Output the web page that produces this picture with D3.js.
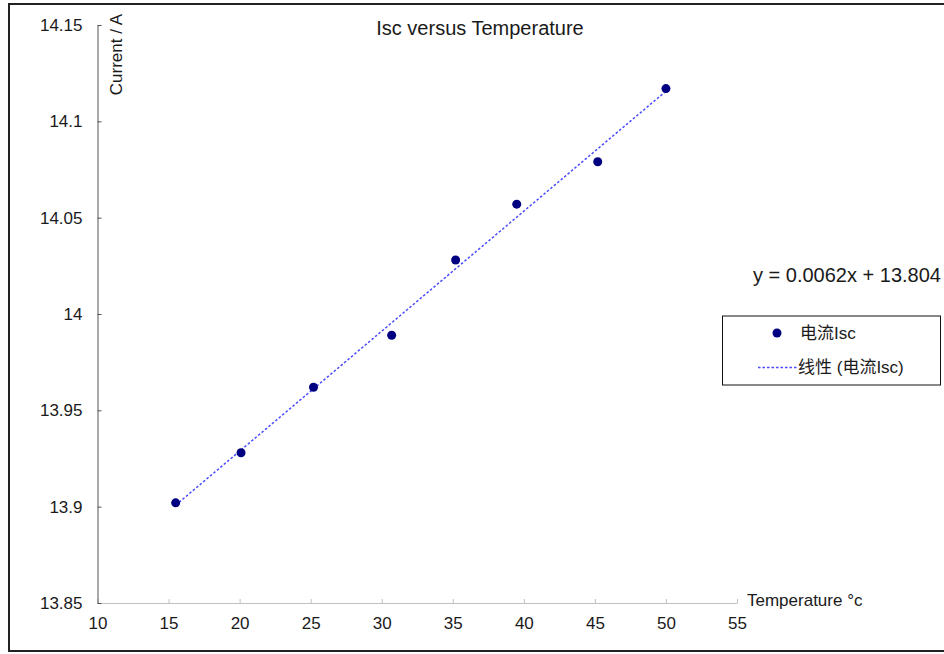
<!DOCTYPE html>
<head>
    <script src="https://d3js.org/d3.v7.min.js"></script>
</head>
<body style="margin:0">
    <style>
        text { font-family: "Liberation Sans", Arial, "Noto Sans CJK SC", sans-serif; fill: #1a1a1a; }
        .cjk { font-family: "Liberation Sans", Arial, "Noto Sans CJK SC", sans-serif; }
    </style>
    <svg width="944" height="654"></svg>
    <script>
        // values
        var temps = [15.5, 20.1, 25.2, 30.7, 35.2, 39.5, 45.2, 50.0];
        var isc = [13.902, 13.928, 13.962, 13.989, 14.028, 14.057, 14.079, 14.117];
        var xTicks = [10, 15, 20, 25, 30, 35, 40, 45, 50, 55];
        var yTicks = [13.85, 13.9, 13.95, 14, 14.05, 14.1, 14.15];

        var svg = d3.select("svg");

        var x = d3.scaleLinear().domain([10, 55]).range([97.5, 737]);
        var y = d3.scaleLinear().domain([13.85, 14.15]).range([603, 25]);

        // outer frame
        svg.append("rect")
            .attr("x", 9).attr("y", 4)
            .attr("width", 960).attr("height", 647)
            .attr("fill", "none")
            .attr("stroke", "#222")
            .attr("stroke-width", 2);

        // linear fit (least squares)
        var mx = d3.mean(temps), my = d3.mean(isc);
        var sxy = d3.sum(temps, function(t, i) { return (t - mx) * (isc[i] - my); });
        var sxx = d3.sum(temps, function(t) { return (t - mx) * (t - mx); });
        var slope = sxy / sxx;
        var icpt = my - slope * mx;

        // x axis
        var gx = svg.append("g")
            .attr("transform", "translate(0,603)")
            .call(d3.axisBottom(x)
                .tickValues(xTicks)
                .tickSizeInner(-4)
                .tickSizeOuter(0)
                .tickPadding(14)
                .tickFormat(d3.format("d")));
        gx.select(".domain").attr("stroke", "#c0c0c0");
        gx.selectAll(".tick line").attr("stroke", "#c0c0c0");
        gx.selectAll("text").style("font-size", "17px").attr("fill", "#1a1a1a");

        // y axis
        var gy = svg.append("g")
            .attr("transform", "translate(97.5,0)")
            .call(d3.axisLeft(y)
                .tickValues(yTicks)
                .tickSizeInner(-4)
                .tickSizeOuter(0)
                .tickPadding(15)
                .tickFormat(function(d) { return String(+d.toFixed(2)); }));
        gy.select(".domain").attr("stroke", "#555");
        gy.selectAll(".tick line").attr("stroke", "#555");
        gy.selectAll("text").style("font-size", "17px").attr("fill", "#1a1a1a");

        // trend line
        var xr = d3.extent(temps);
        svg.append("line")
            .attr("x1", x(xr[0])).attr("y1", y(slope * xr[0] + icpt))
            .attr("x2", x(xr[1])).attr("y2", y(slope * xr[1] + icpt))
            .attr("stroke", "#4a4aff")
            .attr("stroke-width", 1.5)
            .attr("stroke-dasharray", "2.5,2");

        // points
        svg.append("g")
            .selectAll("circle")
            .data(temps)
            .enter().append("circle")
            .attr("cx", function(d) { return x(d); })
            .attr("cy", function(d, i) { return y(isc[i]); })
            .attr("r", 4.5)
            .attr("fill", "#000080");

        // titles
        svg.append("text")
            .attr("x", 480).attr("y", 35)
            .attr("text-anchor", "middle")
            .style("font-size", "20px")
            .text("Isc versus Temperature");

        svg.append("text")
            .attr("transform", "translate(122,14) rotate(-90)")
            .attr("text-anchor", "end")
            .style("font-size", "17px")
            .text("Current / A");

        svg.append("text")
            .attr("x", 747).attr("y", 606)
            .style("font-size", "17px")
            .text("Temperature \u00b0c");

        svg.append("text")
            .attr("x", 753).attr("y", 282)
            .style("font-size", "20px")
            .text("y = " + slope.toFixed(4) + "x + " + icpt.toFixed(3));

        // legend
        var lg = svg.append("g");
        lg.append("rect")
            .attr("x", 722.5).attr("y", 316)
            .attr("width", 218).attr("height", 69)
            .attr("fill", "#fff")
            .attr("stroke", "#111")
            .attr("stroke-width", 1);
        lg.append("circle")
            .attr("cx", 777).attr("cy", 333)
            .attr("r", 4.5)
            .attr("fill", "#000080");
        lg.append("text")
            .attr("class", "cjk")
            .attr("x", 800).attr("y", 339)
            .style("font-size", "17px")
            .text("电流Isc");
        lg.append("line")
            .attr("x1", 758).attr("x2", 797)
            .attr("y1", 367.5).attr("y2", 367.5)
            .attr("stroke", "#4a4aff")
            .attr("stroke-width", 1.5)
            .attr("stroke-dasharray", "2.5,2");
        lg.append("text")
            .attr("class", "cjk")
            .attr("x", 798).attr("y", 373)
            .style("font-size", "17px")
            .text("线性 (电流Isc)");
    </script>
</body>
